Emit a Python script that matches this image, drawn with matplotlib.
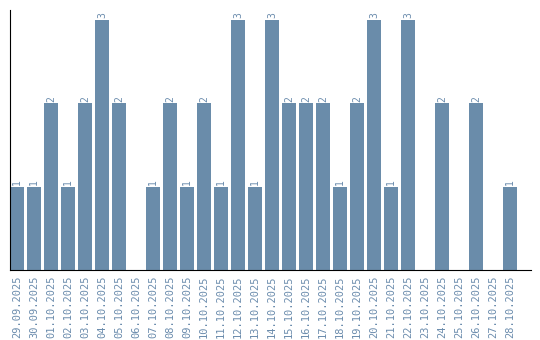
import matplotlib
matplotlib.use("Agg")
import matplotlib.pyplot as plt

dates = ["29.09.2025", "30.09.2025", "01.10.2025", "02.10.2025", "03.10.2025",
         "04.10.2025", "05.10.2025", "06.10.2025", "07.10.2025", "08.10.2025",
         "09.10.2025", "10.10.2025", "11.10.2025", "12.10.2025", "13.10.2025",
         "14.10.2025", "15.10.2025", "16.10.2025", "17.10.2025", "18.10.2025",
         "19.10.2025", "20.10.2025", "21.10.2025", "22.10.2025", "23.10.2025",
         "24.10.2025", "25.10.2025", "26.10.2025", "27.10.2025", "28.10.2025"]
counts = [1, 1, 2, 1, 2, 3, 2, 0, 1, 2,
          1, 2, 1, 3, 1, 3, 2, 2, 2, 1,
          2, 3, 1, 3, 0, 2, 0, 2, 0, 1]

bar_color = "#6a8caa"
text_color = "#6b8cad"

fig = plt.figure(figsize=(5.4, 3.4), dpi=100)
ax = fig.add_axes([10 / 540, 70 / 340, 521 / 540, 260 / 340])

x = list(range(len(dates)))
ax.bar(x, counts, width=0.82, color=bar_color)

# value labels above non-empty bars
for xi, c in zip(x, counts):
    if c > 0:
        ax.text(xi, c + 0.02, str(c), rotation=90, ha="center", va="bottom",
                fontsize=7, family="DejaVu Sans Mono", color=text_color)

ax.set_xlim(-0.41, 30.24)
ax.set_ylim(0, 3.12)
ax.set_xticks(x)
ax.set_xticklabels(dates, rotation=90, fontsize=7.5, family="DejaVu Sans Mono",
                   color=text_color)
ax.tick_params(axis="x", length=0, pad=4)
ax.set_yticks([])
for side in ["top", "right"]:
    ax.spines[side].set_visible(False)
ax.spines["left"].set_color("black")
ax.spines["bottom"].set_color("black")

fig.savefig("out.png", dpi=100)
